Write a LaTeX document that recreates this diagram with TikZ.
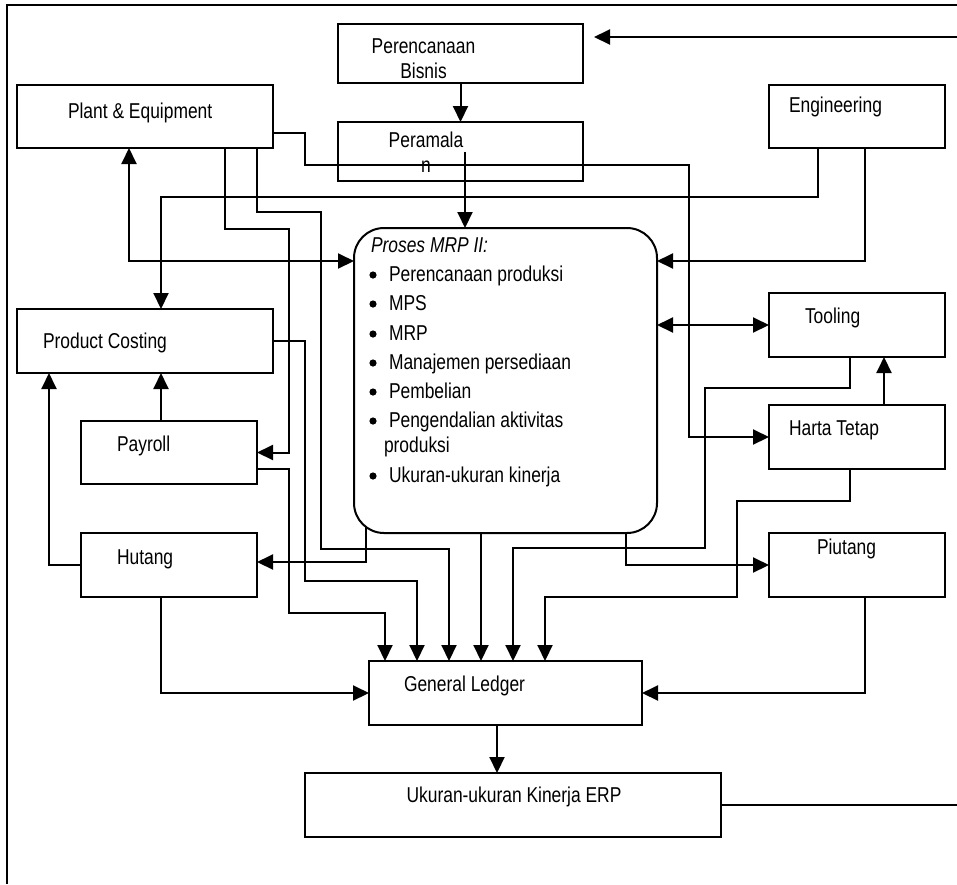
\documentclass[tikz,border=0pt]{standalone}
\usepackage{fontspec}
\setmainfont{Liberation Sans}[FakeStretch=0.81]
\usetikzlibrary{arrows.meta,calc}
\begin{document}
\begin{tikzpicture}[x=1pt,y=-1pt,
  box/.style={draw, line width=2pt, inner sep=0pt, outer sep=0pt},
  bx/.style 2 args={box, minimum width=#1pt, minimum height=#2pt},
  txt/.style={inner sep=0pt, outer sep=0pt, anchor=base west, font=\fontsize{21.5}{25}\selectfont},
  ctxt/.style={txt, anchor=base},
  con/.style={line width=2pt},
  arr/.style={con, -{Triangle[length=16pt,width=15pt]}},
  arr2/.style={con, {Triangle[length=16pt,width=15pt]}-{Triangle[length=16pt,width=15pt]}},
]
\useasboundingbox (0,0) rectangle (957,884);
% frame
\coordinate (fbl) at (7,884);
\coordinate (ftl) at (7,5);
\coordinate (ftr) at (957,5);
\draw[con] (fbl) -- (ftl) -- (ftr);

% boxes
\node[bx={245}{59}] (pb) at (460.5,53.5) {};
\node[bx={245}{59}] (pr) at (460.5,151.5) {};
\node[bx={256}{63}] (pe) at (145,116.5) {};
\node[bx={176}{63}] (en) at (857,116.5) {};
\node[bx={303}{305}, rounded corners=30pt] (mrp) at (505.5,380.5) {};
\node[bx={256}{64}] (pc) at (145,341) {};
\node[bx={176}{64}] (to) at (857,325) {};
\node[bx={176}{63}] (pay) at (169,452.5) {};
\node[bx={176}{64}] (ht) at (857,437) {};
\node[bx={176}{64}] (hu) at (169,565) {};
\node[bx={176}{64}] (pi) at (857,565) {};
\node[bx={273}{64}] (gl) at (505.5,693) {};
\node[bx={416}{64}] (uk) at (513,805) {};

% texts
\node[ctxt] (tpb1) at (423.5,53) {Perencanaan};
\node[ctxt] (tpb2) at (423.5,78) {Bisnis};
\node[ctxt] (tpr1) at (426,147) {Peramala};
\node[ctxt] (tpr2) at (426,172) {n};
\node[txt] (tpe) at (68,118) {Plant \& Equipment};
\node[txt] (ten) at (789,112) {Engineering};
\node[txt] (tpc) at (43,348) {Product Costing};
\node[txt] (tpay) at (117,451) {Payroll};
\node[txt] (thu) at (117,564) {Hutang};
\node[txt] (tto) at (805,323) {Tooling};
\node[txt] (tht) at (789,435) {Harta Tetap};
\node[txt] (tpi) at (817,554) {Piutang};
\node[txt] (tgl) at (404,691) {General Ledger};
\node[ctxt] (tuk) at (514,802) {Ukuran-ukuran Kinerja ERP};

% MRP text
\node[txt] (m0) at (371,252) {\itshape Proses MRP II:};
\node[txt] (m1) at (389,281) {Perencanaan produksi};
\node[txt] (m2) at (389,310) {MPS};
\node[txt] (m3) at (389,340) {MRP};
\node[txt] (m4) at (389,369) {Manajemen persediaan};
\node[txt] (m5) at (389,398) {Pembelian};
\node[txt] (m6) at (389,427) {Pengendalian aktivitas};
\node[txt] (m6b) at (384,452) {produksi};
\node[txt] (m7) at (389,482) {Ukuran-ukuran kinerja};
\foreach \yy in {275,304,334,363,392,421,476}
  \fill (373,\yy) circle (3.6pt);

% connectors
\coordinate (fbin) at (957,37);
\coordinate (fbout) at (957,805);
\draw[con] (uk.east) -- (fbout);
\draw[arr] (fbin) -- ([xshift=11pt,yshift=-13pt]pb.north east);

\draw[arr] (pb.south) -- (pr.north);
\draw[arr] ([xshift=4.5pt]pr.center) -- ([xshift=4.5pt]pr.center |- mrp.north);

% Plant & Equipment
\draw[arr] ([yshift=-16.5pt]pe.east) -| (305,165) -- (689,165) |- (ht.west);
\draw[arr2] ([xshift=-16pt]pe.south) |- (mrp.west |- 0,261);
\draw[arr] ([xshift=80pt]pe.south) -- ++(0,81) -| ([xshift=32pt]pay.east) -- (pay.east);
\draw[arr] ([xshift=112pt]pe.south) -- ++(0,64) -| (321,549) -| ([xshift=-56.5pt]gl.north);

% Engineering
\draw[arr] ([xshift=-39pt]en.south) -- ++(0,49) -| ([xshift=16pt]pc.north);
\draw[arr] ([xshift=8pt]en.south) |- (mrp.east |- 0,261);

% to General Ledger
\draw[arr] ([yshift=-16.5pt]pay.east) -| (289,613) -| ([xshift=-120.5pt]gl.north);
\draw[arr] (pc.east) -| (305,581) -| ([xshift=-88.5pt]gl.north);
\draw[arr] ([xshift=-24.5pt]mrp.south) -- ([xshift=-24.5pt]gl.north);
\draw[arr] ([xshift=-7pt]to.south) -- ++(0,31) -| (705,548) -| ([xshift=7.5pt]gl.north);
\draw[arr] ([xshift=-7pt]ht.south) -- ++(0,32) -| (737,597) -| ([xshift=39.5pt]gl.north);
\draw[arr] ([xshift=-8pt]hu.south) |- (gl.west);
\draw[arr] ([xshift=8pt]pi.south) |- (gl.east);
\draw[arr] ([xshift=-8.5pt]gl.south) -- ([xshift=-8.5pt]gl.south |- uk.north);

% MRP outputs
\draw[arr] ([xshift=-139.5pt,yshift=6pt]mrp.south) |- ([yshift=3pt]hu.east);
\draw[arr] ([xshift=120pt]mrp.south) |- (pi.west);
\draw[arr2] (mrp.east |- to.west) -- (to.west);

% others
\draw[arr] ([xshift=27pt]ht.north) -- ([xshift=27pt]to.south);
\draw[arr] ([xshift=-8pt]pay.north) -- ([xshift=-8pt]pay.north |- pc.south);
\draw[arr] (hu.west) -| ([xshift=-96pt]pc.south);
\end{tikzpicture}
\end{document}
